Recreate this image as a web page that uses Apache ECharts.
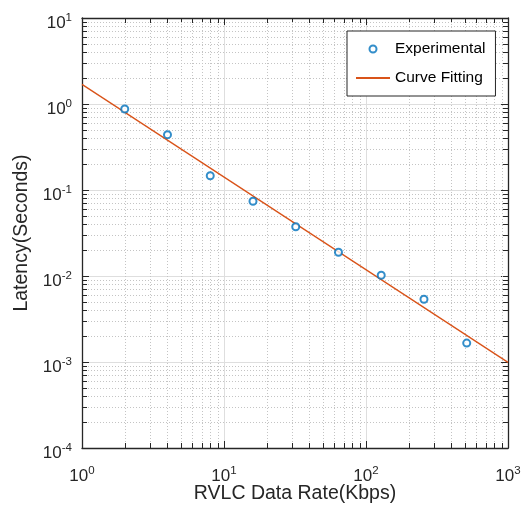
<!DOCTYPE html>
<html>
<head>
<meta charset="utf-8">
<script src="https://cdn.jsdelivr.net/npm/echarts@6/dist/echarts.min.js"></script>
<style>
html, body { margin: 0; padding: 0; background: #fff; }
#main { width: 526px; height: 505px; }
</style>
</head>
<body>
<div id="main"></div>
<script>
// 实验数据 (速率 Kbps, 延迟 s)
var rates = [2, 4, 8, 16, 32, 64, 128, 256, 512];
var latency = [0.875, 0.440, 0.1466, 0.0739, 0.0374, 0.0189, 0.0102, 0.00536, 0.00166];
// 拟合直线两端
var fitX = [1, 1000];
var fitY = [1.69, 0.00099];
// 坐标轴范围
var xRange = [1, 1000];
var yRange = [0.0001, 10];
// 次刻度倍数
var minorMult = [2, 3, 4, 5, 6, 7, 8, 9];
var xDecades = [1, 10, 100];
var yDecades = [0.0001, 0.001, 0.01, 0.1, 1];

var FONT = 'Liberation Sans, Arial, Helvetica, sans-serif';
var AXIS_COLOR = '#262626';

// 次网格线: [x, y, 方向]
var minorGrid = [];
xDecades.forEach(function(d) {
	minorMult.forEach(function(m) { minorGrid.push([d * m, 1, 0]); });
});
yDecades.forEach(function(d) {
	minorMult.forEach(function(m) { minorGrid.push([1, d * m, 1]); });
});

var powLabel = function(v) {
	var e = Math.round(Math.log(v) / Math.LN10);
	return '{b|10}{s|' + e + '}';
};
var labelRich = {
	b: { fontSize: 17, fontFamily: FONT, color: AXIS_COLOR, lineHeight: 20, verticalAlign: 'bottom' },
	s: { fontSize: 11.5, fontFamily: FONT, color: AXIS_COLOR, lineHeight: 20, verticalAlign: 'top' }
};

var chart = echarts.init(document.getElementById('main'), null, { renderer: 'canvas' });

var renderMinor = function(params, api) {
	var cs = params.coordSys;
	var kind = api.value(2);
	var style = { stroke: '#c4c4c4', lineWidth: 1, lineDash: [1, 2] };
	var tick = { stroke: AXIS_COLOR, lineWidth: 1 };
	if (kind === 0) {
		var px = Math.round(api.coord([api.value(0), yRange[0]])[0]) + 0.5;
		return {
			type: 'group',
			children: [
				{ type: 'line', shape: { x1: px, y1: cs.y, x2: px, y2: cs.y + cs.height }, style: style, silent: true },
				{ type: 'line', shape: { x1: px, y1: cs.y + cs.height, x2: px, y2: cs.y + cs.height - 5 }, style: tick, silent: true },
				{ type: 'line', shape: { x1: px, y1: cs.y, x2: px, y2: cs.y + 5 }, style: tick, silent: true }
			]
		};
	}
	var py = Math.round(api.coord([xRange[0], api.value(1)])[1]) + 0.5;
	return {
		type: 'group',
		children: [
			{ type: 'line', shape: { x1: cs.x, y1: py, x2: cs.x + cs.width, y2: py }, style: style, silent: true },
			{ type: 'line', shape: { x1: cs.x, y1: py, x2: cs.x + 5, y2: py }, style: tick, silent: true },
			{ type: 'line', shape: { x1: cs.x + cs.width, y1: py, x2: cs.x + cs.width - 5, y2: py }, style: tick, silent: true }
		]
	};
};

var option = {
	backgroundColor: '#fff',
	animation: false,
	grid: {
		left: 82,
		right: 18,
		top: 18,
		bottom: 57,
		containLabel: false,
		outerBoundsMode: 'none'
	},
	legend: {
		left: 347,
		top: 31,
		orient: 'vertical',
		backgroundColor: '#fff',
		borderColor: AXIS_COLOR,
		borderWidth: 1,
		borderRadius: 0,
		padding: [10, 10, 10, 8],
		itemWidth: 34,
		itemHeight: 7,
		itemGap: 13,
		textStyle: { fontSize: 15.5, fontFamily: FONT, color: '#000' },
		data: [
			{ name: 'Experimental', icon: 'emptyCircle' },
			{ name: 'Curve Fitting', itemStyle: { opacity: 0 } }
		]
	},
	xAxis: [{
		type: 'log',
		logBase: 10,
		min: xRange[0],
		max: xRange[1],
		position: 'bottom',
		name: 'RVLC Data Rate(Kbps)',
		nameLocation: 'middle',
		nameGap: 36,
		nameMoveOverlap: false,
		nameTextStyle: { fontSize: 19.5, fontFamily: FONT, color: AXIS_COLOR },
		axisLine: { show: true, lineStyle: { color: AXIS_COLOR, width: 1.3 } },
		axisTick: { show: true, inside: true, length: 7, lineStyle: { color: AXIS_COLOR } },
		axisLabel: { margin: 17, formatter: powLabel, rich: labelRich },
		splitLine: { show: true, lineStyle: { color: '#dedede', width: 1 } },
		minorTick: { show: false },
		minorSplitLine: { show: false }
	}, {
		type: 'log',
		logBase: 10,
		min: xRange[0],
		max: xRange[1],
		position: 'top',
		axisLine: { show: true, lineStyle: { color: AXIS_COLOR, width: 1.3 } },
		axisTick: { show: true, inside: true, length: 7, lineStyle: { color: AXIS_COLOR } },
		axisLabel: { show: false },
		splitLine: { show: false }
	}],
	yAxis: [{
		type: 'log',
		logBase: 10,
		min: yRange[0],
		max: yRange[1],
		position: 'left',
		name: 'Latency(Seconds)',
		nameLocation: 'middle',
		nameGap: 47,
		nameTextStyle: { fontSize: 19.5, fontFamily: FONT, color: AXIS_COLOR },
		axisLine: { show: true, lineStyle: { color: AXIS_COLOR, width: 1.3 } },
		axisTick: { show: true, inside: true, length: 7, lineStyle: { color: AXIS_COLOR } },
		axisLabel: { margin: 10, formatter: powLabel, rich: labelRich, padding: [8, 0, 0, 0] },
		splitLine: { show: true, lineStyle: { color: '#dedede', width: 1 } }
	}, {
		type: 'log',
		logBase: 10,
		min: yRange[0],
		max: yRange[1],
		position: 'right',
		axisLine: { show: true, lineStyle: { color: AXIS_COLOR, width: 1.3 } },
		axisTick: { show: true, inside: true, length: 7, lineStyle: { color: AXIS_COLOR } },
		axisLabel: { show: false },
		splitLine: { show: false }
	}],
	series: [{
		name: 'minor',
		type: 'custom',
		xAxisIndex: 0,
		yAxisIndex: 0,
		silent: true,
		z: 1,
		renderItem: renderMinor,
		data: minorGrid
	}, {
		name: 'Curve Fitting',
		type: 'line',
		xAxisIndex: 0,
		yAxisIndex: 0,
		symbol: 'none',
		z: 3,
		lineStyle: { color: '#D95319', width: 1.3 },
		itemStyle: { color: '#D95319' },
		data: fitX.map(function(x, i) { return [x, fitY[i]]; })
	}, {
		name: 'Experimental',
		type: 'scatter',
		xAxisIndex: 0,
		yAxisIndex: 0,
		symbol: 'emptyCircle',
		symbolSize: 7,
		z: 4,
		itemStyle: { color: '#0072BD', borderColor: '#0072BD', borderWidth: 1.5 },
		data: rates.map(function(x, i) { return [x, latency[i]]; })
	}]
};
chart.setOption(option);
</script>
</body>
</html>
